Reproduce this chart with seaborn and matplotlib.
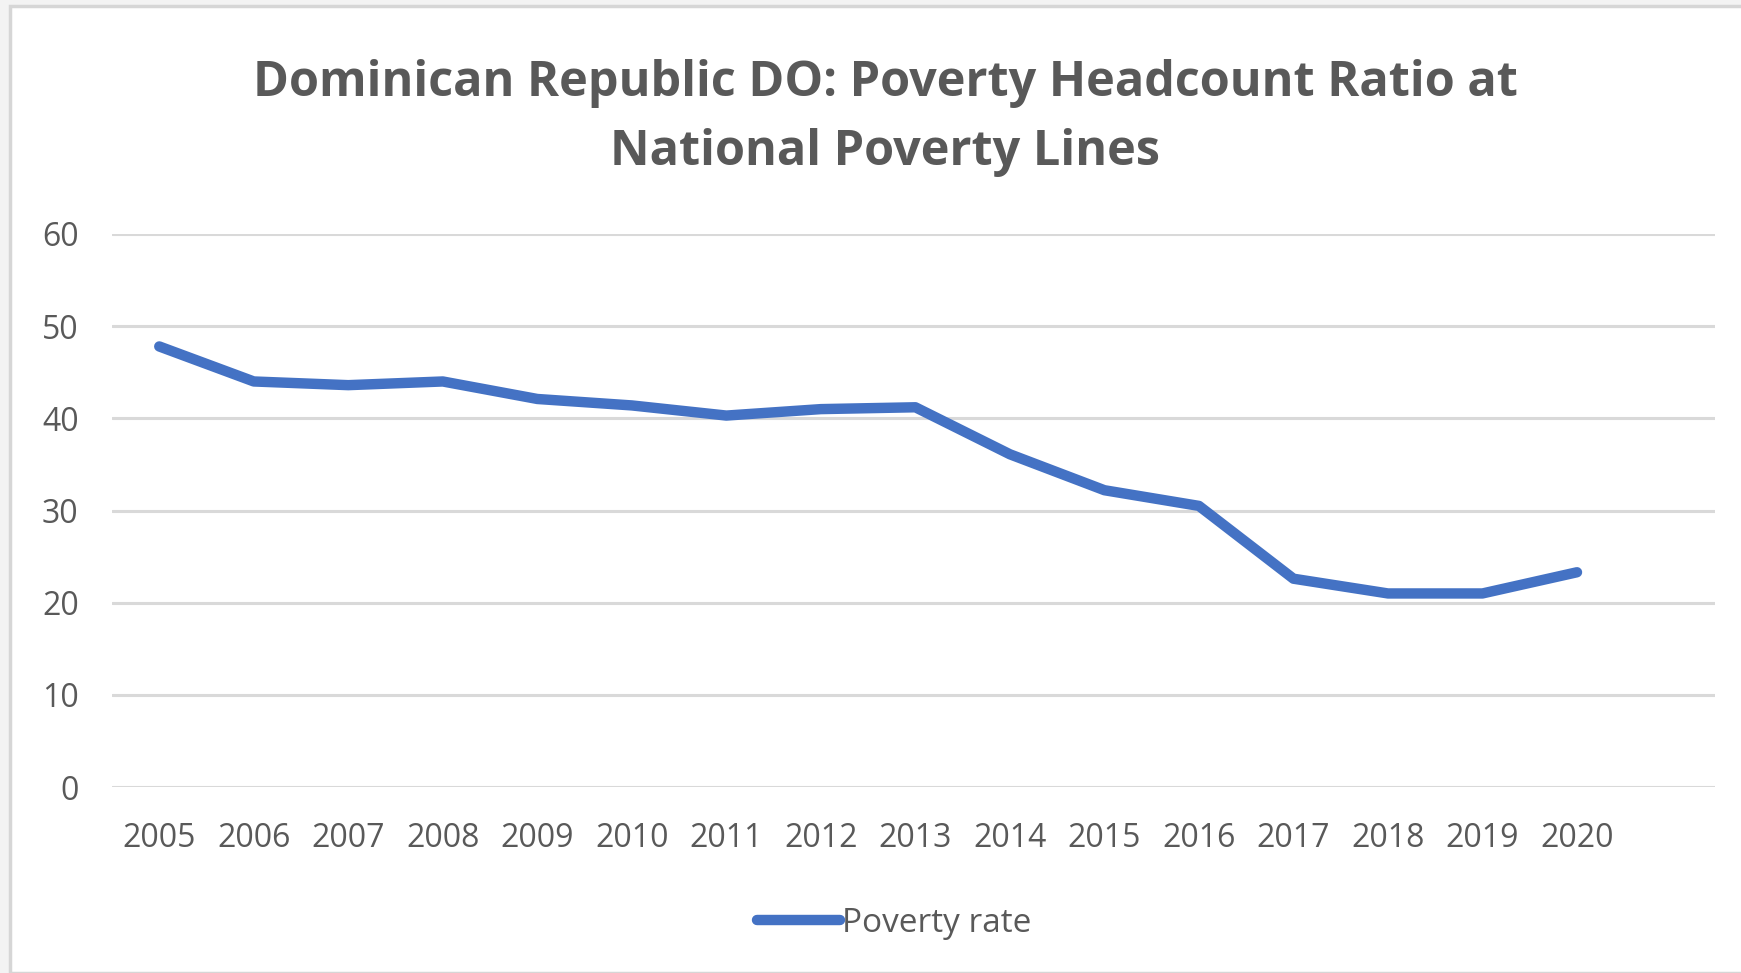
import matplotlib
matplotlib.use("Agg")
import matplotlib.pyplot as plt
import seaborn as sns
import pandas as pd
from matplotlib.patches import Rectangle

years = ["2005", "2006", "2007", "2008", "2009", "2010", "2011", "2012",
         "2013", "2014", "2015", "2016", "2017", "2018", "2019", "2020"]
poverty_rate = [47.8, 44.0, 43.6, 44.0, 42.1, 41.4, 40.3, 41.0,
                41.2, 36.1, 32.2, 30.5, 22.6, 21.0, 21.0, 23.3]
y_ticks = [0, 10, 20, 30, 40, 50, 60]
title_text = "Dominican Republic DO: Poverty Headcount Ratio at\nNational Poverty Lines"
series_name = "Poverty rate"

df = pd.DataFrame({"year": years, "value": poverty_rate})

sns.set_theme(style="white")
plt.rcParams["font.family"] = ["Open Sans", "DejaVu Sans"]

W, H = 1741, 973
fig = plt.figure(figsize=(W / 100, H / 100), dpi=100)
fig.patch.set_facecolor("#f3f3f3")
fig.patches.append(Rectangle((10 / W, 0), 1.0, 1 - 6 / H, transform=fig.transFigure,
                             facecolor="white", edgecolor="#d6d6d6", linewidth=2.5,
                             zorder=-10))

ax = fig.add_axes([112 / W, 1 - 787 / H, (1715 - 112) / W, (787 - 234) / H])
ax.set_facecolor("none")

sns.lineplot(data=df, x="year", y="value", ax=ax, color="#4472C4", linewidth=7.5,
             label=series_name, sort=False)
for ln in ax.get_lines():
    ln.set_solid_capstyle("round")
    ln.set_solid_joinstyle("round")

ax.set_ylim(0, 60)
ax.set_xlim(-0.5, 16.46)
ax.set_yticks(y_ticks)
ax.yaxis.grid(True, color="#d9d9d9", linewidth=2.2)
ax.xaxis.grid(False)
for s in ax.spines.values():
    s.set_visible(False)
ax.set_xlabel("")
ax.set_ylabel("")
ax.tick_params(axis="both", length=0, labelsize=23, labelcolor="#595959")
ax.tick_params(axis="y", pad=24)
ax.tick_params(axis="x", pad=25)
for lab in ax.get_yticklabels():
    lab.set_horizontalalignment("right")

leg = ax.legend(loc="center", bbox_to_anchor=(894 / W, 1 - 923 / H),
                bbox_transform=fig.transFigure, frameon=False, fontsize=24,
                handlelength=2.5, handletextpad=0.05, labelcolor="#595959")

fig.text(885 / W, 1 - 118 / H, title_text, ha="center", va="center",
         fontsize=35, fontweight="bold", color="#595959", linespacing=1.55)

fig.savefig("out.png", dpi=100, facecolor=fig.get_facecolor())
